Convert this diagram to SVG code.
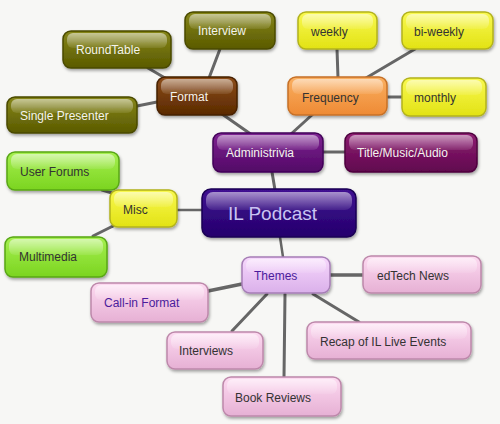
<svg xmlns="http://www.w3.org/2000/svg" width="500" height="424" viewBox="0 0 500 424">
<defs>
<linearGradient id="gOlive" x1="0" y1="0" x2="0" y2="1"><stop offset="0" stop-color="#868619"/><stop offset="1" stop-color="#5a5a00"/></linearGradient>
<linearGradient id="gBrown" x1="0" y1="0" x2="0" y2="1"><stop offset="0" stop-color="#8c4c1a"/><stop offset="1" stop-color="#5a2a00"/></linearGradient>
<linearGradient id="gOrange" x1="0" y1="0" x2="0" y2="1"><stop offset="0" stop-color="#fab062"/><stop offset="1" stop-color="#ee8a34"/></linearGradient>
<linearGradient id="gYellow" x1="0" y1="0" x2="0" y2="1"><stop offset="0" stop-color="#f9f950"/><stop offset="1" stop-color="#e2e214"/></linearGradient>
<linearGradient id="gGreen" x1="0" y1="0" x2="0" y2="1"><stop offset="0" stop-color="#a6f050"/><stop offset="1" stop-color="#7bd420"/></linearGradient>
<linearGradient id="gPurple" x1="0" y1="0" x2="0" y2="1"><stop offset="0" stop-color="#7e2292"/><stop offset="1" stop-color="#520866"/></linearGradient>
<linearGradient id="gMagenta" x1="0" y1="0" x2="0" y2="1"><stop offset="0" stop-color="#8e1e72"/><stop offset="1" stop-color="#60064e"/></linearGradient>
<linearGradient id="gNavy" x1="0" y1="0" x2="0" y2="1"><stop offset="0" stop-color="#401292"/><stop offset="1" stop-color="#24006c"/></linearGradient>
<linearGradient id="gLav" x1="0" y1="0" x2="0" y2="1"><stop offset="0" stop-color="#f7d8fc"/><stop offset="1" stop-color="#dab0ea"/></linearGradient>
<linearGradient id="gPink" x1="0" y1="0" x2="0" y2="1"><stop offset="0" stop-color="#fddaf1"/><stop offset="1" stop-color="#e6b0d4"/></linearGradient>
<linearGradient id="gHi" x1="0" y1="0" x2="0" y2="1"><stop offset="0" stop-color="#ffffff" stop-opacity="0.55"/><stop offset="1" stop-color="#ffffff" stop-opacity="0.08"/></linearGradient>
<filter id="shadow" x="-20%" y="-30%" width="140%" height="170%"><feDropShadow dx="1" dy="2" stdDeviation="1.5" flood-color="#000" flood-opacity="0.35"/></filter>
</defs>
<style>
.node rect.b{stroke-width:1.5;filter:url(#shadow)}
.hi{fill:url(#gHi)}
text{font-family:"Liberation Sans",Arial,sans-serif;font-size:12px}
.olive rect.b{fill:url(#gOlive);stroke:#4a4a00}
.brown rect.b{fill:url(#gBrown);stroke:#462000}
.orange rect.b{fill:url(#gOrange);stroke:#c67026}
.yellow rect.b{fill:url(#gYellow);stroke:#b2b21c}
.green rect.b{fill:url(#gGreen);stroke:#58a616}
.purple rect.b{fill:url(#gPurple);stroke:#420458}
.magenta rect.b{fill:url(#gMagenta);stroke:#4e043e}
.navy rect.b{fill:url(#gNavy);stroke:#1a0054}
.lav rect.b{fill:url(#gLav);stroke:#a67eb6}
.pink rect.b{fill:url(#gPink);stroke:#bd88aa}
.light text{fill:#f4f4ee}
.dark text{fill:#333333}
.violet text{fill:#4b1c9c}
.big text{font-size:19px;fill:#c9c3f2}
.conn line{stroke:#666666;stroke-linecap:round}
</style>
<rect x="0" y="0" width="500" height="424" fill="#f7f7f5"/>
<g id="connectors" class="conn">
<line x1="209" y1="78" x2="220" y2="49" stroke-width="3"/>
<line x1="148" y1="68" x2="165" y2="78" stroke-width="3"/>
<line x1="137" y1="106" x2="157" y2="102" stroke-width="3"/>
<line x1="222" y1="114" x2="252" y2="135" stroke-width="3"/>
<line x1="337" y1="49" x2="338" y2="78" stroke-width="3"/>
<line x1="415" y1="49" x2="366" y2="78" stroke-width="3"/>
<line x1="387" y1="97" x2="402" y2="97" stroke-width="3"/>
<line x1="313" y1="114" x2="291" y2="134" stroke-width="3"/>
<line x1="323" y1="152" x2="345" y2="152" stroke-width="3"/>
<line x1="272" y1="172" x2="275" y2="190" stroke-width="3"/>
<line x1="177" y1="210" x2="202" y2="210" stroke-width="2.5"/>
<line x1="102" y1="190" x2="112" y2="193" stroke-width="3"/>
<line x1="93" y1="236" x2="113" y2="226" stroke-width="3"/>
<line x1="280" y1="237" x2="283" y2="257" stroke-width="2.5"/>
<line x1="330" y1="275" x2="363" y2="275" stroke-width="3.5"/>
<line x1="208" y1="291" x2="242" y2="284" stroke-width="3.5"/>
<line x1="232" y1="331" x2="267" y2="294" stroke-width="3"/>
<line x1="285" y1="294" x2="284" y2="377" stroke-width="3"/>
<line x1="313" y1="294" x2="359" y2="322" stroke-width="3"/>
</g>
<g id="interview" class="node olive light"><rect class="b" x="185" y="12" width="90" height="37" rx="8"/><rect class="hi" x="189" y="14" width="82" height="15" rx="6"/><text x="198" y="35">Interview</text></g>
<g id="roundtable" class="node olive light"><rect class="b" x="63" y="31" width="108" height="37" rx="8"/><rect class="hi" x="67" y="33" width="100" height="15" rx="6"/><text x="76" y="54">RoundTable</text></g>
<g id="format" class="node brown light"><rect class="b" x="157" y="77" width="80" height="38" rx="8"/><rect class="hi" x="161" y="79" width="72" height="15" rx="6"/><text x="170" y="101">Format</text></g>
<g id="single-presenter" class="node olive light"><rect class="b" x="7" y="97" width="130" height="36" rx="8"/><rect class="hi" x="11" y="99" width="122" height="14" rx="6"/><text x="20" y="120">Single Presenter</text></g>
<g id="weekly" class="node yellow dark"><rect class="b" x="298" y="12" width="79" height="37" rx="8"/><rect class="hi" x="302" y="14" width="71" height="15" rx="6"/><text x="311" y="36">weekly</text></g>
<g id="bi-weekly" class="node yellow dark"><rect class="b" x="402" y="12" width="91" height="37" rx="8"/><rect class="hi" x="406" y="14" width="83" height="15" rx="6"/><text x="414" y="36">bi-weekly</text></g>
<g id="frequency" class="node orange dark"><rect class="b" x="288" y="77" width="99" height="38" rx="8"/><rect class="hi" x="292" y="79" width="91" height="15" rx="6"/><text x="302" y="102">Frequency</text></g>
<g id="monthly" class="node yellow dark"><rect class="b" x="402" y="78" width="84" height="38" rx="8"/><rect class="hi" x="406" y="80" width="76" height="15" rx="6"/><text x="414" y="102">monthly</text></g>
<g id="administrivia" class="node purple light"><rect class="b" x="213" y="133" width="110" height="39" rx="8"/><rect class="hi" x="217" y="135" width="102" height="15" rx="6"/><text x="226" y="157">Administrivia</text></g>
<g id="title-music-audio" class="node magenta light"><rect class="b" x="345" y="133" width="132" height="39" rx="8"/><rect class="hi" x="349" y="135" width="124" height="15" rx="6"/><text x="357" y="157">Title/Music/Audio</text></g>
<g id="il-podcast" class="node navy big"><rect class="b" x="202" y="189" width="154" height="48" rx="9"/><rect class="hi" x="206" y="192" width="146" height="18" rx="7"/><text x="228" y="220">IL Podcast</text></g>
<g id="user-forums" class="node green dark"><rect class="b" x="7" y="152" width="112" height="38" rx="8"/><rect class="hi" x="11" y="154" width="104" height="15" rx="6"/><text x="20" y="176">User Forums</text></g>
<g id="misc" class="node yellow dark"><rect class="b" x="110" y="190" width="67" height="37" rx="8"/><rect class="hi" x="114" y="192" width="59" height="15" rx="6"/><text x="123" y="214">Misc</text></g>
<g id="multimedia" class="node green dark"><rect class="b" x="5" y="237" width="102" height="40" rx="8"/><rect class="hi" x="9" y="239" width="94" height="16" rx="6"/><text x="19" y="261">Multimedia</text></g>
<g id="themes" class="node lav violet"><rect class="b" x="242" y="257" width="88" height="36" rx="8"/><rect class="hi" x="246" y="259" width="80" height="14" rx="6"/><text x="254" y="280">Themes</text></g>
<g id="edtech-news" class="node pink dark"><rect class="b" x="363" y="256" width="118" height="37" rx="8"/><rect class="hi" x="367" y="258" width="110" height="15" rx="6"/><text x="377" y="280">edTech News</text></g>
<g id="call-in-format" class="node pink violet"><rect class="b" x="91" y="283" width="117" height="39" rx="8"/><rect class="hi" x="95" y="285" width="109" height="15" rx="6"/><text x="104" y="307">Call-in Format</text></g>
<g id="interviews" class="node pink dark"><rect class="b" x="167" y="332" width="96" height="37" rx="8"/><rect class="hi" x="171" y="334" width="88" height="15" rx="6"/><text x="179" y="355">Interviews</text></g>
<g id="book-reviews" class="node pink dark"><rect class="b" x="223" y="377" width="118" height="39" rx="8"/><rect class="hi" x="227" y="379" width="110" height="15" rx="6"/><text x="235" y="402">Book Reviews</text></g>
<g id="recap" class="node pink dark"><rect class="b" x="307" y="322" width="164" height="37" rx="8"/><rect class="hi" x="311" y="324" width="156" height="15" rx="6"/><text x="320" y="346">Recap of IL Live Events</text></g>
</svg>
